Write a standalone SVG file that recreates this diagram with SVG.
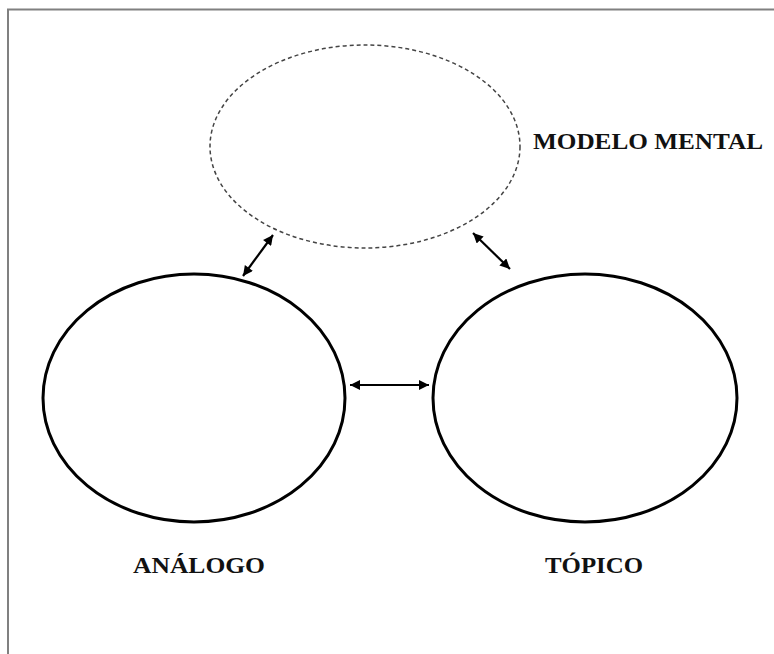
<svg xmlns="http://www.w3.org/2000/svg" width="774" height="654" viewBox="0 0 774 654">
<style>
.node{fill:none;stroke:#000;stroke-width:3}
.dash{fill:none;stroke:#444;stroke-width:1.5;stroke-dasharray:4 3}
.conn{stroke:#000;stroke-width:2.2;fill:none;marker-start:url(#ah);marker-end:url(#ah)}
.lbl{font-family:"Liberation Serif","Times New Roman",serif;font-weight:bold;font-size:24px;fill:#111}
</style>
<defs>
<marker id="ah" viewBox="0 0 10 10" refX="10" refY="5" markerWidth="11" markerHeight="10" markerUnits="userSpaceOnUse" orient="auto-start-reverse">
<path d="M0,0 L10,5 L0,10 z" fill="#000"/>
</marker>
</defs>
<rect x="0" y="0" width="774" height="654" fill="#fff"/>
<path d="M8,654 V9.5 H774" fill="none" stroke="#808080" stroke-width="2"/>
<g id="modelo-mental">
<ellipse class="dash" cx="365" cy="146.5" rx="155" ry="101.5"/>
<text class="lbl" x="533" y="149" textLength="230" lengthAdjust="spacingAndGlyphs">MODELO MENTAL</text>
</g>
<g id="analogo">
<ellipse class="node" cx="194" cy="398" rx="151" ry="124"/>
<text class="lbl" x="133" y="573" textLength="132" lengthAdjust="spacingAndGlyphs">ANÁLOGO</text>
</g>
<g id="topico">
<ellipse class="node" cx="585" cy="398" rx="152" ry="124"/>
<text class="lbl" x="545" y="573" textLength="98" lengthAdjust="spacingAndGlyphs">TÓPICO</text>
</g>
<g id="connectors">
<line class="conn" x1="243" y1="276" x2="273" y2="235"/>
<line class="conn" x1="473" y1="233" x2="510" y2="269"/>
<line class="conn" x1="350" y1="385" x2="429" y2="385"/>
</g>
</svg>
